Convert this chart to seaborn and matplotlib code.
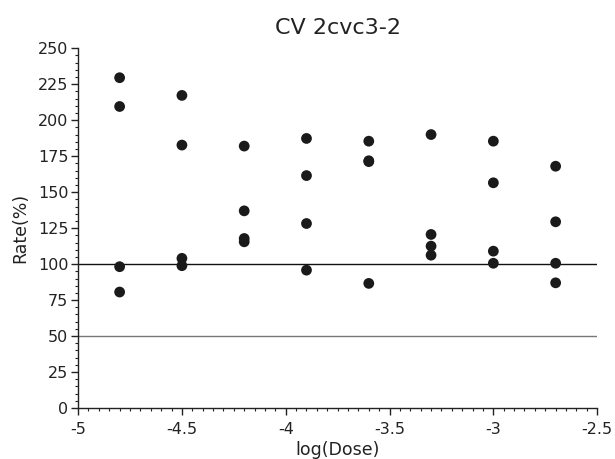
import matplotlib
matplotlib.use("Agg")
import matplotlib.pyplot as plt
import seaborn as sns
import pandas as pd
from matplotlib.ticker import MultipleLocator

log_dose = [-4.8, -4.8, -4.8, -4.8,
            -4.5, -4.5, -4.5, -4.5,
            -4.2, -4.2, -4.2, -4.2,
            -3.9, -3.9, -3.9, -3.9,
            -3.6, -3.6, -3.6, -3.6,
            -3.3, -3.3, -3.3, -3.3,
            -3.0, -3.0, -3.0, -3.0,
            -2.7, -2.7, -2.7, -2.7]
rate = [229.5, 209.5, 98.2, 80.6,
        217.2, 182.7, 104.0, 98.9,
        182.0, 137.0, 117.8, 115.5,
        187.3, 161.5, 128.2, 95.8,
        185.4, 171.2, 171.8, 86.6,
        190.0, 120.6, 112.5, 106.2,
        185.4, 156.5, 109.0, 100.6,
        168.0, 129.4, 100.6, 87.0]
ref_lines = [100, 50]
ref_colors = ["#111111", "#777777"]
title = "CV 2cvc3-2"

df = pd.DataFrame({"log(Dose)": log_dose, "Rate(%)": rate})

sns.set_style("ticks")
plt.rcParams["font.family"] = ["DejaVu Sans"]

fig = plt.figure(figsize=(6.15, 4.59), dpi=100)
ax = fig.add_axes([0.127, 0.111, 0.844, 0.784])

for y, c in zip(ref_lines, ref_colors):
    ax.axhline(y, color=c, lw=1.0, zorder=1)

sns.scatterplot(data=df, x="log(Dose)", y="Rate(%)", ax=ax, color="#1a1a1a",
                s=60, edgecolor="none", zorder=3, legend=False)

ax.set_xlim(-5, -2.5)
ax.set_ylim(0, 250)
ax.xaxis.set_major_locator(MultipleLocator(0.5))
ax.xaxis.set_minor_locator(MultipleLocator(0.05))
ax.yaxis.set_major_locator(MultipleLocator(25))
ax.yaxis.set_minor_locator(MultipleLocator(5))
ax.tick_params(which="major", length=5, width=1, labelsize=11.5, colors="#222222")
ax.tick_params(axis="x", which="major", pad=5)
ax.tick_params(axis="y", which="major", pad=2)
ax.tick_params(which="minor", length=2.5, width=0.8, colors="#222222")
ax.xaxis.set_major_formatter(matplotlib.ticker.FuncFormatter(lambda v, p: f"{v:g}"))

for side in ["top", "right"]:
    ax.spines[side].set_visible(False)
for side in ["left", "bottom"]:
    ax.spines[side].set_color("#222222")
    ax.spines[side].set_linewidth(1.0)

ax.set_xlabel("log(Dose)", fontsize=12.5, color="#222222", labelpad=3)
ax.set_ylabel("Rate(%)", fontsize=12.5, color="#222222", labelpad=6)
ax.set_title(title, fontsize=16, color="#222222", pad=10)

fig.savefig("out.png", dpi=100)
